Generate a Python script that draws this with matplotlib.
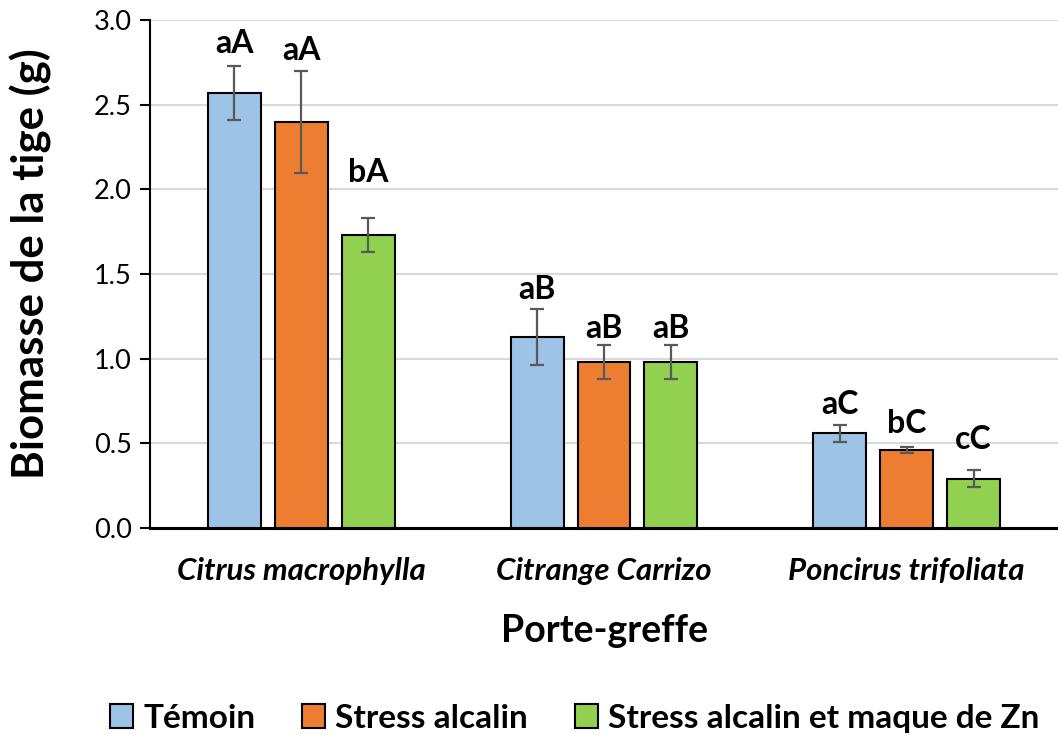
import matplotlib
matplotlib.use("Agg")
import matplotlib.pyplot as plt
import numpy as np
from matplotlib.patches import Patch

plt.rcParams['font.family'] = ['Lato', 'DejaVu Sans']

categories = ["Citrus macrophylla", "Citrange Carrizo", "Poncirus trifoliata"]
series_names = ["Témoin", "Stress alcalin", "Stress alcalin et maque de Zn"]
values = {
    "Témoin": [2.57, 1.13, 0.56],
    "Stress alcalin": [2.40, 0.98, 0.46],
    "Stress alcalin et maque de Zn": [1.73, 0.98, 0.29],
}
errors = {
    "Témoin": [0.16, 0.165, 0.05],
    "Stress alcalin": [0.30, 0.10, 0.02],
    "Stress alcalin et maque de Zn": [0.10, 0.10, 0.05],
}
letters = {
    "Témoin": ["aA", "aB", "aC"],
    "Stress alcalin": ["aA", "aB", "bC"],
    "Stress alcalin et maque de Zn": ["bA", "aB", "cC"],
}
letter_y = {
    "Témoin": [2.865, 1.41, 0.73],
    "Stress alcalin": [2.82, 1.18, 0.62],
    "Stress alcalin et maque de Zn": [2.10, 1.18, 0.52],
}
colors = ["#9DC3E6", "#ED7D31", "#92D050"]
yticks = [0.0, 0.5, 1.0, 1.5, 2.0, 2.5, 3.0]

fig = plt.figure(figsize=(10.58, 7.38), dpi=100)
ax = fig.add_axes([0.1418, 0.2846, 0.8582, 0.688])

x = np.arange(len(categories))
width = 0.175
step = 0.221
for i, name in enumerate(series_names):
    pos = x + (i - 1) * step
    ax.bar(pos, values[name], width, color=colors[i], edgecolor="black",
           linewidth=1.5, zorder=3)
    ax.errorbar(pos, values[name], yerr=errors[name], fmt="none",
                ecolor="#595959", elinewidth=1.6, capsize=5, capthick=1.6, zorder=4)
    for p, t, yy in zip(pos, letters[name], letter_y[name]):
        ax.text(p, yy, t, ha="center", va="center", fontsize=23,
                fontweight="bold", zorder=5)

ax.set_xlim(-0.5, 2.5)
ax.set_ylim(0, 3.0)
ax.set_yticks(yticks)
ax.set_yticklabels([f"{v:.1f}" for v in yticks], fontsize=19.5)
ax.set_xticks(x)
ax.set_xticklabels(categories, fontsize=22.5, fontweight="bold", fontstyle="italic")
ax.tick_params(axis="x", length=0, pad=21)
ax.tick_params(axis="y", length=7, width=1.5, direction="out", pad=6)
ax.grid(axis="y", color="#D9D9D9", linewidth=1.5, zorder=0)
ax.set_axisbelow(True)
for s in ["top", "right"]:
    ax.spines[s].set_visible(False)
ax.spines["left"].set_linewidth(1.5)
ax.spines["bottom"].set_linewidth(2.2)

ax.set_ylabel("Biomasse de la tige (g)", fontsize=31.5, fontweight="bold")
ax.yaxis.set_label_coords(-0.108, 0.52)
ax.set_xlabel("Porte-greffe", fontsize=27, fontweight="bold", labelpad=21)

handles = [Patch(facecolor=c, edgecolor="black", linewidth=1.5) for c in colors]
fig.legend(handles, series_names, loc="center", bbox_to_anchor=(0.543, 0.027),
           ncol=3, frameon=False, prop={"size": 24, "weight": "bold"},
           handlelength=0.7, handleheight=0.7, handletextpad=0.3, columnspacing=1.4)

fig.savefig("out.png", dpi=100)
